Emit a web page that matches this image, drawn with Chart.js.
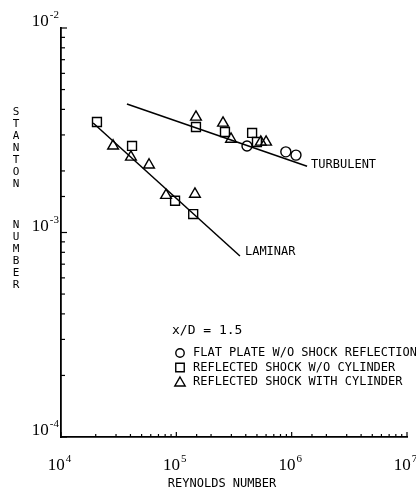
<!DOCTYPE html>
<html>
<head>
<meta charset="utf-8">
<script src="https://cdn.jsdelivr.net/npm/chart.js@4/dist/chart.umd.min.js"></script>
<style>
  body { margin: 0; background: #fff; }
  #wrap { width: 416px; height: 495px; }
</style>
</head>
<body>
<div id="wrap"><canvas id="stanton" width="416" height="495"></canvas></div>
<script>
// Stanton number vs Reynolds number, x/D = 1.5
const circleRe = [4.1e5, 8.9e5, 1.09e6];
const circleSt = [2.65e-3, 2.48e-3, 2.39e-3];

const squareRe = [2.05e4, 4.13e4, 9.75e4, 1.40e5, 1.48e5, 2.64e5, 4.54e5, 5.0e5];
const squareSt = [3.47e-3, 2.65e-3, 1.43e-3, 1.23e-3, 3.28e-3, 3.10e-3, 3.07e-3, 2.77e-3];

const triangleRe = [2.83e4, 4.04e4, 5.8e4, 8.14e4, 1.45e5, 1.48e5, 2.54e5, 2.98e5, 5.4e5, 6.0e5];
const triangleSt = [2.65e-3, 2.34e-3, 2.14e-3, 1.52e-3, 1.54e-3, 3.67e-3, 3.43e-3, 2.86e-3, 2.77e-3, 2.77e-3];

// fitted correlations (end points)
const turbulentRe = [3.73e4, 1.36e6];
const turbulentSt = [4.25e-3, 2.11e-3];
const laminarRe = [1.9e4, 3.56e5];
const laminarSt = [3.43e-3, 7.67e-4];

const xDecades = [1e4, 1e5, 1e6, 1e7];
const yDecades = [1e-4, 1e-3, 1e-2];

const legendTitle = 'x/D = 1.5';
const legendLabels = [
  'FLAT PLATE W/O SHOCK REFLECTION',
  'REFLECTED SHOCK W/O CYLINDER',
  'REFLECTED SHOCK WITH CYLINDER'
];

const toPts = (xs, ys) => xs.map((x, i) => ({ x: x, y: ys[i] }));
const MONO = '"DejaVu Sans Mono", monospace';
const SERIF = '"Liberation Serif", serif';

function drawSymbol(ctx, style, r, x, y) {
  ctx.save();
  ctx.strokeStyle = '#000';
  ctx.lineWidth = 1.4;
  ctx.beginPath();
  if (style === 'circle') {
    ctx.arc(x, y, r, 0, Math.PI * 2);
  } else if (style === 'rect') {
    const s = r * Math.SQRT1_2;
    ctx.rect(x - s, y - s, 2 * s, 2 * s);
  } else {
    const h = r * 0.866;
    ctx.moveTo(x, y - r);
    ctx.lineTo(x + h, y + r * 0.5);
    ctx.lineTo(x - h, y + r * 0.5);
    ctx.closePath();
  }
  ctx.stroke();
  ctx.restore();
}

function powLabel(ctx, value, x, y, align) {
  const exp = Math.round(Math.log10(value)).toString();
  ctx.font = '17px ' + SERIF;
  const wBase = ctx.measureText('10').width;
  ctx.font = '11px ' + SERIF;
  const wExp = ctx.measureText(exp).width;
  let left = align === 'right' ? x - wBase - wExp : x - (wBase + wExp) / 2;
  ctx.font = '17px ' + SERIF;
  ctx.textAlign = 'left';
  ctx.textBaseline = 'alphabetic';
  ctx.fillText('10', left, y);
  ctx.font = '11px ' + SERIF;
  ctx.fillText(exp, left + wBase + 1, y - 8);
}

const decorations = {
  id: 'decorations',
  afterDraw(chart) {
    const ctx = chart.ctx;
    const xs = chart.scales.x, ys = chart.scales.y;
    const area = chart.chartArea;
    ctx.save();
    ctx.fillStyle = '#000';
    ctx.strokeStyle = '#000';
    ctx.lineWidth = 1.2;

    // inward tick marks
    xs.ticks.forEach(t => {
      const px = xs.getPixelForValue(t.value);
      const major = xDecades.includes(t.value);
      ctx.beginPath();
      ctx.moveTo(px, area.bottom);
      ctx.lineTo(px, area.bottom - (major ? 5 : 3));
      ctx.stroke();
    });
    ys.ticks.forEach(t => {
      const py = ys.getPixelForValue(t.value);
      const major = yDecades.some(d => Math.abs(d - t.value) / d < 1e-6);
      ctx.beginPath();
      ctx.moveTo(area.left, py);
      ctx.lineTo(area.left + (major ? 6 : 4), py);
      ctx.stroke();
    });

    // decade labels
    xDecades.forEach(v => powLabel(ctx, v, xs.getPixelForValue(v) - 2, area.bottom + 33, 'center'));
    yDecades.forEach(v => powLabel(ctx, v, area.left - 3, ys.getPixelForValue(v) - 2, 'right'));

    // axis titles
    ctx.font = '12px ' + MONO;
    ctx.textAlign = 'center';
    ctx.textBaseline = 'middle';
    ctx.fillText('REYNOLDS NUMBER', (area.left + area.right) / 2 - 12, area.bottom + 47);
    ctx.font = '11px ' + MONO;
    const word1 = 'STANTON', word2 = 'NUMBER';
    for (let i = 0; i < word1.length; i++) ctx.fillText(word1[i], 16, 112 + i * 12);
    for (let i = 0; i < word2.length; i++) ctx.fillText(word2[i], 16, 225 + i * 12);

    // line labels
    ctx.font = '12px ' + MONO;
    ctx.textAlign = 'left';
    ctx.fillText('TURBULENT', xs.getPixelForValue(turbulentRe[1]) + 4, ys.getPixelForValue(turbulentSt[1]) - 1);
    ctx.fillText('LAMINAR', xs.getPixelForValue(laminarRe[1]) + 5, ys.getPixelForValue(laminarSt[1]) - 4);

    // legend
    ctx.font = '13px ' + MONO;
    ctx.fillText(legendTitle, 172, 331);
    ctx.font = '12px ' + MONO;
    const styles = ['circle', 'rect', 'triangle'];
    const radii = [4.2, 6, 6];
    legendLabels.forEach((lab, i) => {
      const y = 353 + i * 14.5;
      drawSymbol(ctx, styles[i], radii[i], 180, y + (i === 2 ? 1 : 0));
      ctx.fillText(lab, 193, y);
    });
    ctx.restore();
  }
};

const marker = (label, data, style, r) => ({
  label: label,
  data: data,
  showLine: false,
  pointStyle: style,
  pointRadius: r,
  pointBorderWidth: 1.4,
  pointBorderColor: '#000',
  pointBackgroundColor: 'rgba(0,0,0,0)'
});

const fitLine = (label, data) => ({
  label: label,
  data: data,
  showLine: true,
  borderColor: '#000',
  borderWidth: 1.5,
  pointRadius: 0,
  fill: false
});

new Chart(document.getElementById('stanton'), {
  type: 'scatter',
  data: {
    datasets: [
      fitLine('Turbulent', toPts(turbulentRe, turbulentSt)),
      fitLine('Laminar', toPts(laminarRe, laminarSt)),
      marker(legendLabels[0], toPts(circleRe, circleSt), 'circle', 5),
      marker(legendLabels[1], toPts(squareRe, squareSt), 'rect', 6.3),
      marker(legendLabels[2], toPts(triangleRe, triangleSt), 'triangle', 6.2)
    ]
  },
  options: {
    responsive: false,
    devicePixelRatio: 1,
    animation: false,
    clip: false,
    layout: { padding: { left: 53, top: 28, right: 9, bottom: 50 } },
    plugins: { legend: { display: false }, tooltip: { enabled: false } },
    scales: {
      x: {
        type: 'logarithmic',
        min: 1e4,
        max: 1e7,
        ticks: { display: false },
        grid: { display: false },
        border: { display: true, color: '#000', width: 1.8 }
      },
      y: {
        type: 'logarithmic',
        min: 1e-4,
        max: 1e-2,
        ticks: { display: false },
        grid: { display: false },
        border: { display: true, color: '#000', width: 1.8 }
      }
    }
  },
  plugins: [decorations]
});
</script>
</body>
</html>
